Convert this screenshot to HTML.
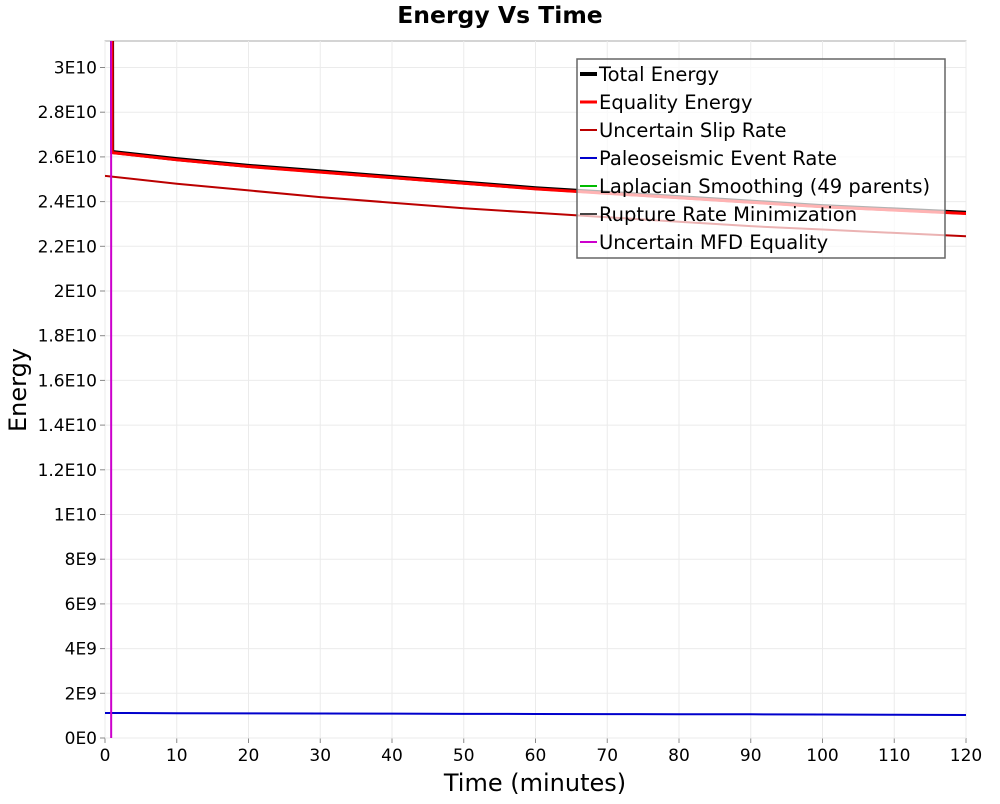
<!DOCTYPE html>
<html><head><meta charset="utf-8"><style>
body{margin:0;background:#fff;font-family:"DejaVu Sans","Liberation Sans",sans-serif}
</style></head><body>
<svg id="c" width="1000" height="800" xmlns="http://www.w3.org/2000/svg"></svg>
<script>
const xTicks=[0,10,20,30,40,50,60,70,80,90,100,110,120];
const yTicks=[0,2e9,4e9,6e9,8e9,1e10,1.2e10,1.4e10,1.6e10,1.8e10,2e10,2.2e10,2.4e10,2.6e10,2.8e10,3e10];
const yTickLabels=["0E0","2E9","4E9","6E9","8E9","1E10","1.2E10","1.4E10","1.6E10","1.8E10","2E10","2.2E10","2.4E10","2.6E10","2.8E10","3E10"];
const tTotal=[0.9,1,10,20,30,40,50,60,70,80,90,100,110,120];
const totalEnergy=[6e10,2.622e10,2.59e10,2.56e10,2.535e10,2.51e10,2.485e10,2.46e10,2.44e10,2.42e10,2.40e10,2.38e10,2.365e10,2.35e10];
const equalityEnergy=[6e10,2.619e10,2.587e10,2.557e10,2.532e10,2.507e10,2.482e10,2.457e10,2.437e10,2.417e10,2.397e10,2.377e10,2.362e10,2.347e10];
const tSlip=[0,10,20,30,40,50,60,70,80,90,100,110,120];
const slipRate=[2.515e10,2.48e10,2.45e10,2.42e10,2.395e10,2.37e10,2.35e10,2.33e10,2.31e10,2.29e10,2.275e10,2.26e10,2.245e10];
const paleoRate=[1.12e9,1.11e9,1.10e9,1.095e9,1.09e9,1.08e9,1.075e9,1.07e9,1.065e9,1.06e9,1.05e9,1.04e9,1.03e9];
const tMfd=[0.85,0.86];
const mfdEquality=[6e10,0];
const L=105,R=966,T=41,B=738,yMax=(B-T)/44.7*2e9;
const X=v=>L+(v/120)*(R-L), Y=v=>B-(v/yMax)*(B-T);
const s=document.getElementById('c');let h='';
h+=`<defs><clipPath id="pc"><rect x="${L}" y="${T}" width="${R-L}" height="${B-T}"/></clipPath></defs>`;
h+=`<text x="500" y="23" text-anchor="middle" font-size="23.5" font-weight="bold">Energy Vs Time</text>`;
h+=`<rect x="${L}" y="${T}" width="${R-L}" height="${B-T}" fill="#fff" stroke="#aaa"/>`;
xTicks.forEach(v=>{h+=`<line x1="${X(v)}" x2="${X(v)}" y1="${T}" y2="${B}" stroke="#ebebeb"/>`;
h+=`<line x1="${X(v)}" x2="${X(v)}" y1="${B}" y2="${B+5}" stroke="#888"/>`;
h+=`<text x="${X(v)}" y="${B+23}" text-anchor="middle" font-size="17">${v}</text>`});
yTicks.forEach((v,i)=>{h+=`<line x1="${L}" x2="${R}" y1="${Y(v)}" y2="${Y(v)}" stroke="#ebebeb"/>`;
h+=`<line x1="${L-5}" x2="${L}" y1="${Y(v)}" y2="${Y(v)}" stroke="#888"/>`;
h+=`<text x="${L-8}" y="${Y(v)+6}" text-anchor="end" font-size="17">${yTickLabels[i]}</text>`});
h+=`<text x="535" y="791" text-anchor="middle" font-size="24">Time (minutes)</text>`;
h+=`<text transform="translate(26,390) rotate(-90)" text-anchor="middle" font-size="24">Energy</text>`;
const line=(t,v,c,w,n)=>{h+=`<polyline clip-path="url(#pc)" fill="none" stroke="${c}" stroke-width="${w}" points="${t.map((x,i)=>X(x)+','+Y(v[i])).join(' ')}"/>`};
line(tSlip,paleoRate,'#0000cc',2,'paleoseismic-event-rate-line');
line(tSlip,slipRate,'#bb0000',2,'uncertain-slip-rate-line');
line(tTotal,totalEnergy,'#000',4,'total-energy-line');
line(tTotal,equalityEnergy,'#ff0000',3,'equality-energy-line');
line(tMfd,mfdEquality,'#cc00cc',2,'uncertain-mfd-equality-line');
h+=`<g><rect x="577" y="59" width="368" height="199" fill="#fff" fill-opacity="0.7" stroke="#666" stroke-width="1.5"/>`;
const leg=[["Total Energy","#000",4],["Equality Energy","#ff0000",3],["Uncertain Slip Rate","#bb0000",2],["Paleoseismic Event Rate","#0000cc",2],["Laplacian Smoothing (49 parents)","#00bb00",2],["Rupture Rate Minimization","#444",2],["Uncertain MFD Equality","#cc00cc",2]];
leg.forEach((e,i)=>{const y=74+i*28;h+=`<g><line x1="580" x2="597" y1="${y}" y2="${y}" stroke="${e[1]}" stroke-width="${e[2]}"/><text x="599" y="${y+7}" font-size="19.5">${e[0]}</text></g>`});
h+=`</g>`;
s.innerHTML=h;
</script>
</body></html>
